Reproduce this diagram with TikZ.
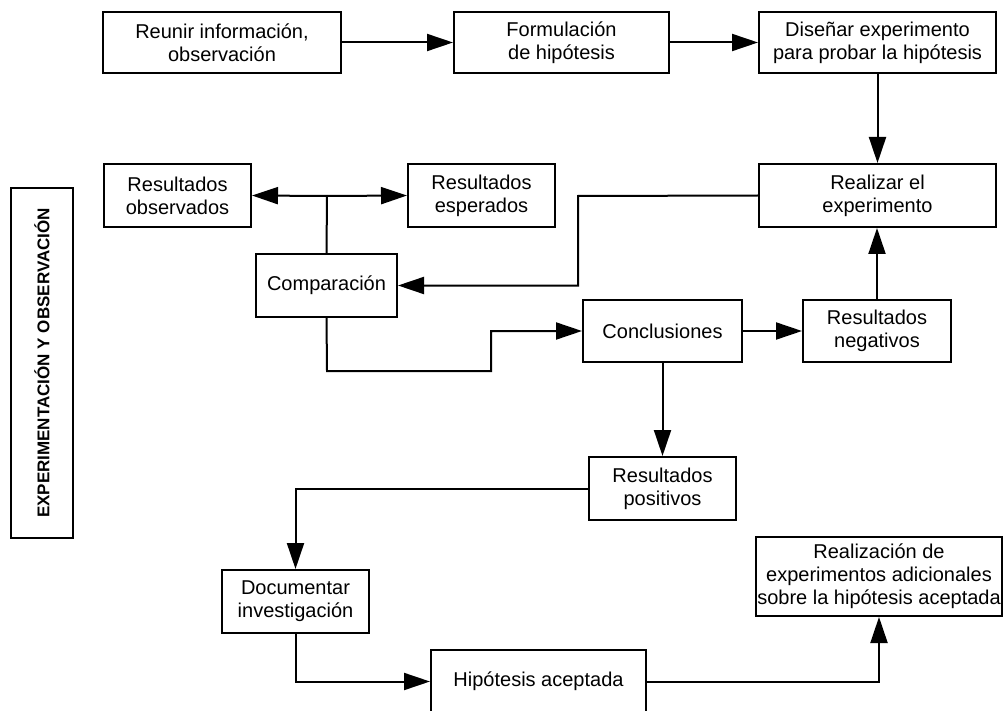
\documentclass[tikz,border=0pt]{standalone}
\usepackage{fontspec}
\setmainfont{Liberation Sans}
\usetikzlibrary{arrows.meta}
\begin{document}
\begin{tikzpicture}[x=1pt,y=-1pt,
  box/.style={draw, line width=2pt, align=center, inner sep=1pt,
    font=\fontsize{20}{23}\selectfont},
  arr/.style={line width=2pt, -{Triangle[length=26pt,width=17pt]}},
  conn/.style={line width=2pt}]
\useasboundingbox (0,0) rectangle (1003,711);
% nodes
\node[box, minimum width=238pt, minimum height=61pt] (reunir) at (222,42.5) {Reunir información,\\observación};
\node[box, minimum width=215pt, minimum height=61pt] (formul) at (561.5,42.5) {Formulación\\de hipótesis};
\node[box, minimum width=237pt, minimum height=61pt] (disenar) at (877.5,42.5) {Diseñar experimento\\para probar la hipótesis};
\node[box, minimum width=237pt, minimum height=63pt] (realizar) at (877.5,195.5) {Realizar el\\experimento};
\node[box, minimum width=147pt, minimum height=63pt] (observ) at (177.5,195.5) {Resultados\\observados};
\node[box, minimum width=147pt, minimum height=63pt] (esper) at (481.5,195.5) {Resultados\\esperados};
\node[box, minimum width=141pt, minimum height=63pt] (compar) at (326.5,285.5) {Comparación};
\node[box, minimum width=159pt, minimum height=62pt] (concl) at (662.5,331) {Conclusiones};
\node[box, minimum width=148pt, minimum height=62pt] (negat) at (877,331) {Resultados\\negativos};
\node[box, minimum width=147pt, minimum height=63pt] (posit) at (662.5,488.5) {Resultados\\positivos};
\node[box, minimum width=147pt, minimum height=63pt] (docum) at (295.5,601.5) {Documentar\\investigación};
\node[box, minimum width=215pt, minimum height=63pt] (hipac) at (538.5,681.5) {Hipótesis aceptada};
\node[box, inner sep=0pt, minimum width=246pt, minimum height=79pt] (realiz) at (879,576.5) {Realización de\\experimentos adicionales\\sobre la hipótesis aceptada};
\node[box, rotate=90, minimum width=350pt, minimum height=62pt,
  font=\bfseries\fontsize{17}{20}\selectfont] (lab) at (42,363) {EXPERIMENTACIÓN Y OBSERVACIÓN};
% helper coordinates
\coordinate (br) at (327,196);
\coordinate (c1) at (578,196);
\coordinate (c2) at (327,371);
\coordinate (c3) at (491,371);
% connectors
\draw[arr] (reunir.east) -- (formul.west);
\draw[arr] (formul.east) -- (disenar.west);
\draw[arr] (disenar.south) -- (realizar.north);
\draw[conn] (compar.north) -- (br);
\draw[arr] (br) -- (observ.east);
\draw[arr] (br) -- (esper.west);
\draw[arr] (realizar.west) -- (c1) |- (compar.east);
\draw[arr] (compar.south) -- (c2) -- (c3) |- (concl.west);
\draw[arr] (concl.east) -- (negat.west);
\draw[arr] (negat.north) -- (negat.north |- realizar.south);
\draw[arr] (concl.south) -- (posit.north);
\draw[arr] (posit.west) -| (docum.north);
\draw[arr] (docum.south) |- (hipac.west);
\draw[arr] (hipac.east) -| (realiz.south);
\end{tikzpicture}
\end{document}
